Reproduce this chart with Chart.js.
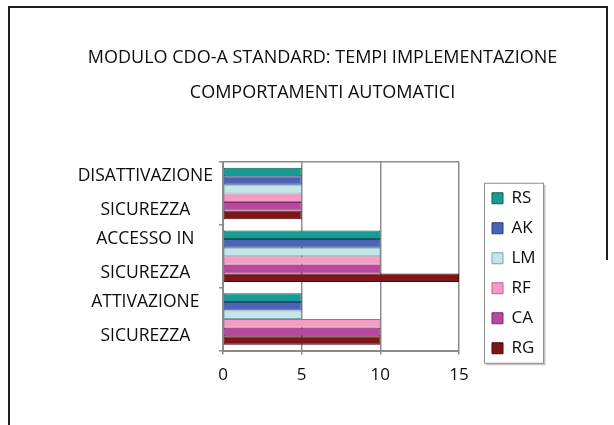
<!DOCTYPE html>
<html>
<head>
<meta charset="utf-8">
<script src="https://cdn.jsdelivr.net/npm/chart.js@4/dist/chart.umd.min.js"></script>
<style>
  html, body { margin: 0; padding: 0; background: #fff; overflow: hidden; }
  #wrap { position: relative; width: 614px; height: 425px; overflow: hidden; }
  #c { position: absolute; left: 0; top: 0; }
  .fr { position: absolute; background: #1e1e1e; }
</style>
</head>
<body>
<div id="wrap">
  <div class="fr" style="left:8px;top:6px;width:2px;height:419px;"></div>
  <div class="fr" style="left:8px;top:6px;width:600px;height:2px;"></div>
  <div class="fr" style="left:606px;top:6px;width:2px;height:254px;"></div>
  <canvas id="c" width="645" height="425"></canvas>
</div>
<script>
// ---- data ----
const titleLines = ["MODULO CDO-A STANDARD: TEMPI IMPLEMENTAZIONE", "COMPORTAMENTI AUTOMATICI"];
const categories = [["DISATTIVAZIONE", "SICUREZZA"], ["ACCESSO IN", "SICUREZZA"], ["ATTIVAZIONE", "SICUREZZA"]];
const seriesNames = ["RS", "AK", "LM", "RF", "CA", "RG"];
const RS = [5, 10, 5];
const AK = [5, 10, 5];
const LM = [5, 10, 5];
const RF = [5, 10, 10];
const CA = [5, 10, 10];
const RG = [5, 15, 10];
const xTickValues = [0, 5, 10, 15];

// ---- styles ----
const fills   = ["#179c93", "#4a64b6", "#c2e7ea", "#f49cc6", "#b9479f", "#7d1519"];
const borders = ["#0c5f59", "#2b3d7c", "#7fa3a7", "#b5678b", "#7a2b69", "#470a0c"];
const seriesValues = [RS, AK, LM, RF, CA, RG];
const FONT = "'Open Sans', 'Noto Sans', sans-serif";
const TEXT = '#0d0d0d';

const datasets = seriesNames.map((n, i) => ({
  label: n,
  data: seriesValues[i],
  backgroundColor: fills[i],
  borderColor: borders[i],
  borderWidth: 1,
  borderSkipped: false,
  barPercentage: 1.0,
  categoryPercentage: 0.82
}));

// layout helper: a spacer between plot and legend so the plot ends where the reference does
const RIGHT_SPACE = 176;
const spacerPlugin = {
  id: 'spacer',
  beforeInit(chart) {
    const box = {
      position: 'right', weight: 10, fullSize: false, options: {},
      left: 0, top: 0, right: 0, bottom: 0, width: 0, height: 0,
      isHorizontal() { return false; },
      update(maxWidth, maxHeight) {
        const lw = chart.legend ? chart.legend.width : 0;
        this.width = Math.max(0, RIGHT_SPACE - lw);
        this.height = maxHeight;
      },
      draw() {}
    };
    Chart.layouts.addBox(chart, box);
  }
};

const legendPlace = {
  id: 'legendPlace',
  afterLayout(chart) {
    const lg = chart.legend, ca = chart.chartArea;
    if (!lg) return;
    lg.left = ca.right + 20;
    lg.right = lg.left + lg.width;
    const mid = (ca.top + ca.bottom) / 2 + 17;
    lg.top = mid - 120;
    lg.bottom = mid + 120;
    lg.height = 240;
  },
  afterDraw(chart) {
    const lg = chart.legend;
    if (!lg || !lg.legendHitBoxes || !lg.legendHitBoxes.length) return;
    const hb = lg.legendHitBoxes;
    const first = hb[0], last = hb[hb.length - 1];
    const x0 = first.left - 8, x1 = first.left + 51;
    const y0 = first.top + 3 - 10, y1 = last.top + 3 + 11 + 9;
    const ctx = chart.ctx;
    ctx.save();
    ctx.strokeStyle = '#c4c4c4';
    ctx.lineWidth = 2;
    ctx.beginPath();
    ctx.moveTo(x1 + 1.5, y0 + 2); ctx.lineTo(x1 + 1.5, y1 + 1.5); ctx.lineTo(x0 + 2, y1 + 1.5);
    ctx.stroke();
    ctx.strokeStyle = '#8e8e8e';
    ctx.lineWidth = 1;
    ctx.strokeRect(x0 + 0.5, y0 + 0.5, x1 - x0, y1 - y0);
    ctx.restore();
  }
};

new Chart(document.getElementById('c'), {
  type: 'bar',
  data: { labels: categories, datasets },
  plugins: [spacerPlugin, legendPlace],
  options: {
    indexAxis: 'y',
    responsive: false,
    animation: false,
    layout: { padding: { left: 10, right: 10, top: 0, bottom: 44.5 } },
    plugins: {
      title: {
        display: true,
        text: titleLines,
        color: TEXT,
        font: { family: FONT, size: 18, weight: 'normal', lineHeight: 35 / 18 },
        padding: { top: 40, bottom: 52 }
      },
      legend: {
        display: true,
        position: 'right',
        fullSize: true,
        labels: {
          boxWidth: 11,
          boxHeight: 11,
          padding: 13,
          color: TEXT,
          font: { family: FONT, size: 17 }
        }
      },
      tooltip: { enabled: false }
    },
    scales: {
      x: {
        type: 'linear',
        min: 0,
        max: 15,
        afterBuildTicks(scale) { scale.ticks = xTickValues.map(v => ({ value: v })); },
        afterFit(scale) { scale.height = 30; },
        ticks: { color: TEXT, font: { family: FONT, size: 17 }, padding: 10 },
        grid: { color: '#8c8c8c', lineWidth: 1.5, tickLength: 4, tickColor: '#8c8c8c' },
        border: { display: true, color: '#8a8a8a', width: 2 }
      },
      y: {
        afterFit(scale) { scale.width = 213; },
        ticks: {
          color: TEXT,
          crossAlign: 'center',
          autoSkip: false,
          padding: 6,
          font: { family: FONT, size: 17.5, lineHeight: 34 / 17.5 }
        },
        grid: {
          offset: true,
          drawOnChartArea: true,
          color: (ctx) => ctx.index === 0 ? '#8c8c8c' : 'rgba(0,0,0,0)',
          lineWidth: 1.5,
          tickLength: 4,
          tickColor: '#8c8c8c'
        },
        border: { display: true, color: '#8a8a8a', width: 2 }
      }
    }
  }
});
</script>
</body>
</html>
